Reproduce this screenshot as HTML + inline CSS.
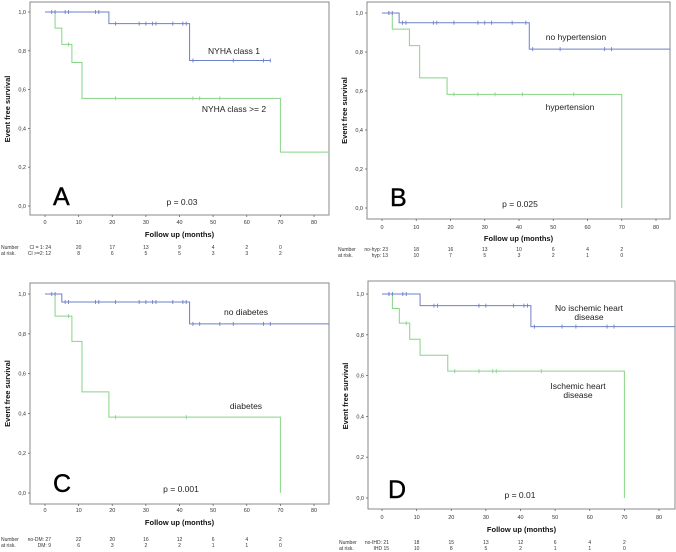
<!DOCTYPE html>
<html><head><meta charset="utf-8"><style>
html,body{margin:0;padding:0;background:#fff;}
svg{display:block;font-family:"Liberation Sans",sans-serif;}
</style></head><body>
<svg id="chart" width="676" height="552" viewBox="0 0 676 552" xmlns="http://www.w3.org/2000/svg"></svg>
<script>
// ---- Data ----
const xTicks = [0,10,20,30,40,50,60,70,80];
const yTicks = [0,0.2,0.4,0.6,0.8,1.0];
const yTickLabels = ["0,0","0,2","0,4","0,6","0,8","1,0"];
const riskTimes = [0,10,20,30,40,50,60,70];

const aBlueT = [0,19,43], aBlueS = [1,0.94,0.75], aBlueEnd = 67;
const aBlueCT = [2,3,6,7,15,16,21,28,30,32,33,38,41,42,44,56,65,67];
const aGreenT = [0,3,5,8,11,70], aGreenS = [1,0.917,0.833,0.74,0.555,0.278], aGreenEnd = 85;
const aGreenCT = [7,21,44,46,52];
const aRisk1 = [24,20,17,13,9,4,2,0], aRisk2 = [12,8,6,5,5,3,3,2];

const bBlueT = [0,5,43], bBlueS = [1,0.95,0.815], bBlueEnd = 85;
const bBlueCT = [2,3,6,7,15,16,21,28,30,32,38,42,44,52,65,67];
const bGreenT = [0,3,8,11,19,70], bGreenS = [1,0.917,0.833,0.667,0.583,0], bGreenEnd = 70;
const bGreenCT = [2,21,28,33,41,56];
const bRisk1 = [23,18,16,13,10,6,4,2], bRisk2 = [13,10,7,5,3,2,1,0];

const cBlueT = [0,5,43], cBlueS = [1,0.96,0.85], cBlueEnd = 85;
const cBlueCT = [2,3,6,7,15,16,21,28,30,32,33,38,41,42,44,46,52,56,65,67];
const cGreenT = [0,3,8,11,19,70], cGreenS = [1,0.889,0.762,0.508,0.381,0], cGreenEnd = 70;
const cGreenCT = [7,21,42];
const cRisk1 = [27,22,20,16,12,6,4,2], cRisk2 = [9,6,3,2,2,1,1,0];

const dBlueT = [0,11,43], dBlueS = [1,0.943,0.84], dBlueEnd = 85;
const dBlueCT = [2,3,6,7,15,16,28,30,38,41,42,44,52,56,65,67];
const dGreenT = [0,3,5,8,11,19,70], dGreenS = [1,0.929,0.857,0.778,0.7,0.622,0], dGreenEnd = 70;
const dGreenCT = [2,7,21,28,32,33,46];
const dRisk1 = [21,18,15,13,12,6,4,2], dRisk2 = [15,10,8,5,2,1,1,0];

// ---- Layout ----
const panels = [
 {id:"a",letter:"A",bx:30,by:2,bw:299,bh:213,x0:45,x80:314,y1:12,y0:206,tickY:224,titleY:237,r1:249,r2:255,
  bt:aBlueT,bs:aBlueS,be:aBlueEnd,bc:aBlueCT,gt:aGreenT,gs:aGreenS,ge:aGreenEnd,gc:aGreenCT,k1:aRisk1,k2:aRisk2,
  g1:"Cl = 1:",g2:"Cl >=2:",lx:53,ly:205,p:"p = 0.03",px:182,py:205,
  labels:[["NYHA class 1",234,54],["NYHA class >= 2",234,112]]},
 {id:"b",letter:"B",bx:367,by:2,bw:303,bh:217,x0:382,x80:656,y1:13,y0:208,tickY:229,titleY:241,r1:251,r2:257,
  bt:bBlueT,bs:bBlueS,be:bBlueEnd,bc:bBlueCT,gt:bGreenT,gs:bGreenS,ge:bGreenEnd,gc:bGreenCT,k1:bRisk1,k2:bRisk2,
  g1:"no-hyp:",g2:"hyp:",lx:390,ly:206,p:"p = 0.025",px:520,py:207,
  labels:[["no hypertension",576,40],["hypertension",570,110]]},
 {id:"c",letter:"C",bx:30,by:283,bw:299,bh:221,x0:45,x80:314,y1:294,y0:493,tickY:512,titleY:525,r1:541,r2:547,
  bt:cBlueT,bs:cBlueS,be:cBlueEnd,bc:cBlueCT,gt:cGreenT,gs:cGreenS,ge:cGreenEnd,gc:cGreenCT,k1:cRisk1,k2:cRisk2,
  g1:"no-DM:",g2:"DM:",lx:53,ly:492,p:"p = 0.001",px:181,py:492,
  labels:[["no diabetes",246,315],["diabetes",246,409]]},
 {id:"d",letter:"D",bx:368,by:281,bw:307,bh:228,x0:382,x80:659,y1:294,y0:498,tickY:519,titleY:532,r1:544,r2:550,
  bt:dBlueT,bs:dBlueS,be:dBlueEnd,bc:dBlueCT,gt:dGreenT,gs:dGreenS,ge:dGreenEnd,gc:dGreenCT,k1:dRisk1,k2:dRisk2,
  g1:"no-IHD:",g2:"IHD",lx:388,ly:498,p:"p = 0.01",px:520,py:498,
  labels:[["No ischemic heart",589,311],["disease",589,320],["Ischemic heart",578,389],["disease",578,398]]}
];

const NS = "http://www.w3.org/2000/svg";
const svg = document.getElementById("chart");
function mk(tag, attrs, parent, text){
  const e = document.createElementNS(NS, tag);
  for (const k in attrs) e.setAttribute(k, attrs[k]);
  if (text !== undefined) e.textContent = text;
  (parent || svg).appendChild(e);
  return e;
}

panels.forEach(P => {
  const g = mk("g", {});
  
  
  const X = t => P.x0 + (P.x80 - P.x0) * t / 80;
  const Y = s => P.y0 + (P.y1 - P.y0) * s;
  const xr = P.bx + P.bw;

  const box = mk("rect", {x:P.bx, y:P.by, width:P.bw, height:P.bh, fill:"none", stroke:"#888", "stroke-width":1}, g);
  
  

  yTicks.forEach((v, i) => {
    const tk = mk("line", {x1:P.bx-2, x2:P.bx, y1:Y(v), y2:Y(v), stroke:"#666", "stroke-width":0.8}, g);
    
    
    const tl = mk("text", {x:P.bx-4, y:Y(v)+2, "font-size":5.5, "text-anchor":"end", fill:"#333"}, g, yTickLabels[i]);
    
    
  });
  xTicks.forEach(v => {
    const tk = mk("line", {x1:X(v), x2:X(v), y1:P.by+P.bh, y2:P.by+P.bh+2, stroke:"#666", "stroke-width":0.8}, g);
    
    
    const tl = mk("text", {x:X(v), y:P.tickY, "font-size":5.5, "text-anchor":"middle", fill:"#333"}, g, String(v));
    
    
  });
  const xt = mk("text", {x:(P.bx+xr)/2, y:P.titleY, "font-size":7.5, "font-weight":"bold", "text-anchor":"middle", fill:"#111"}, g, "Follow up (months)");
  
  
  const cy = (P.y0 + P.y1) / 2;
  const yt = mk("text", {x:P.bx-20, y:cy, "font-size":7.5, "font-weight":"bold", "text-anchor":"middle", fill:"#111", transform:`rotate(-90 ${P.bx-20} ${cy})`}, g, "Event free survival");
  
  

  function curve(T, S, end, C, color, name){
    let d = `M${X(T[0])},${Y(S[0])}`;
    for (let i = 1; i < T.length; i++) d += ` H${X(T[i])} V${Y(S[i])}`;
    d += ` H${Math.min(X(end), xr)}`;
    const p = mk("path", {d:d, fill:"none", stroke:color, "stroke-width":1}, g);
    
    
    C.forEach(t => {
      let s = S[0];
      for (let i = 0; i < T.length; i++) if (T[i] <= t) s = S[i];
      const m = mk("line", {x1:X(t), x2:X(t), y1:Y(s)-2, y2:Y(s)+2, stroke:color, "stroke-width":0.9}, g);
      
      
    });
  }
  curve(P.gt, P.gs, P.ge, P.gc, "#86d486", "group2");
  curve(P.bt, P.bs, P.be, P.bc, "#6d80c8", "group1");

  P.labels.forEach(L => {
    const t = mk("text", {x:L[1], y:L[2], "font-size":8.5, "text-anchor":"middle", fill:"#222"}, g, L[0]);
    
    
  });
  const pv = mk("text", {x:P.px, y:P.py, "font-size":8.5, "text-anchor":"middle", fill:"#222"}, g, P.p);
  
  
  const lt = mk("text", {x:P.lx, y:P.ly, "font-size":25, fill:"#000", stroke:"#000", "stroke-width":0.4}, g, P.letter);
  
  

  const sx = P.bx - 29;
  const n1 = mk("text", {x:sx, y:P.r1, "font-size":5, fill:"#333"}, g, "Number");
  
  
  const n2 = mk("text", {x:sx, y:P.r2, "font-size":5, fill:"#333"}, g, "at risk.");
  
  
  const gl1 = mk("text", {x:sx+50, y:P.r1, "font-size":5, "text-anchor":"end", fill:"#333"}, g, P.g1 + " " + P.k1[0]);
  
  
  const gl2 = mk("text", {x:sx+50, y:P.r2, "font-size":5, "text-anchor":"end", fill:"#333"}, g, P.g2 + " " + P.k2[0]);
  
  
  riskTimes.forEach((t, i) => {
    if (i === 0) return;
    const c1 = mk("text", {x:X(t), y:P.r1, "font-size":5, "text-anchor":"middle", fill:"#333"}, g, String(P.k1[i]));
    
    
    const c2 = mk("text", {x:X(t), y:P.r2, "font-size":5, "text-anchor":"middle", fill:"#333"}, g, String(P.k2[i]));
    
    
  });
});
</script>
</body></html>
